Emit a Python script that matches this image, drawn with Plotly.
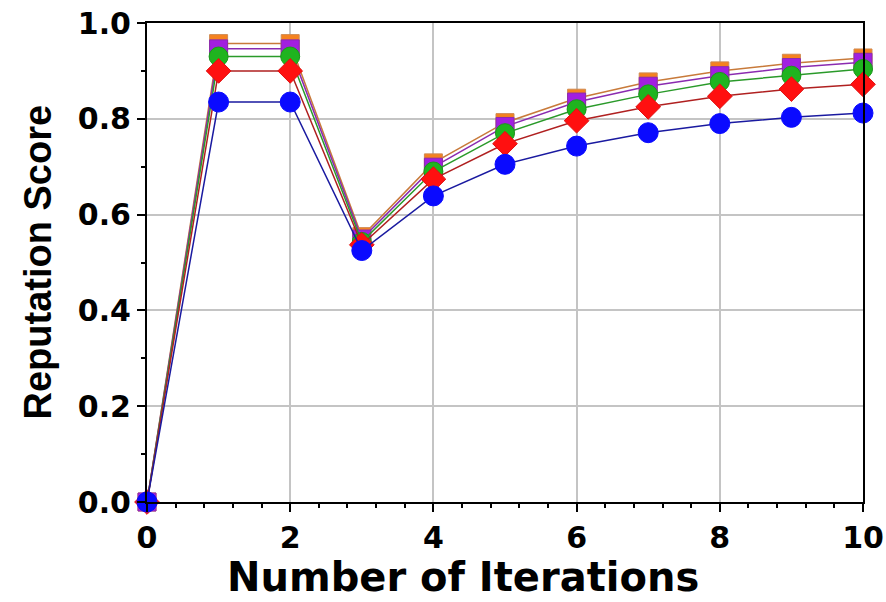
import plotly.graph_objects as go

iterations = [0, 1, 2, 3, 4, 5, 6, 7, 8, 9, 10]
orange_vals = [0.0, 0.957, 0.957, 0.554, 0.708, 0.792, 0.843, 0.877, 0.900, 0.916, 0.927]
purple_vals = [0.0, 0.946, 0.946, 0.549, 0.699, 0.784, 0.835, 0.868, 0.890, 0.907, 0.918]
green_vals = [0.0, 0.930, 0.930, 0.543, 0.690, 0.770, 0.820, 0.851, 0.877, 0.890, 0.904]
red_vals = [0.0, 0.900, 0.900, 0.537, 0.674, 0.748, 0.796, 0.825, 0.847, 0.862, 0.872]
blue_vals = [0.0, 0.835, 0.835, 0.525, 0.639, 0.705, 0.743, 0.771, 0.790, 0.803, 0.812]

x_title = "Number of Iterations"
y_title = "Reputation Score"

series = [
    ("orange", orange_vals, "square", 18, "#f5821f", "#d08a50", "#c87a3a"),
    ("purple", purple_vals, "square", 18, "#a21fe0", "#8a2bb0", "#8a2bb0"),
    ("green", green_vals, "circle", 19, "#1fb41f", "#1a9a1a", "#2a9a2a"),
    ("red", red_vals, "diamond", 19, "#ff1010", "#e01010", "#b02020"),
    ("blue", blue_vals, "circle", 20, "#0a0aff", "#0a0aff", "#1a1aa0"),
]

fig = go.Figure()
for name, vals, sym, size, mcol, mline, lcol in series:
    fig.add_trace(go.Scatter(
        x=iterations, y=vals, mode="lines+markers", name=name,
        line=dict(color=lcol, width=1.5),
        marker=dict(symbol=sym, size=size, color=mcol, line=dict(color=mline, width=1)),
        cliponaxis=False, showlegend=False,
    ))

tick_font = dict(size=30, family="DejaVu Sans", weight="bold", color="black")
fig.update_layout(
    width=886, height=602,
    margin=dict(l=147, r=23, t=23, b=100),
    paper_bgcolor="white", plot_bgcolor="white",
    font=dict(family="DejaVu Sans", color="black"),
)
fig.update_xaxes(
    range=[0, 10], dtick=2, tick0=0, automargin=False, ticklabeloverflow="allow",
    showgrid=True, gridcolor="#c4c4c4", gridwidth=2,
    showline=True, linecolor="black", linewidth=2, mirror=True,
    ticks="outside", ticklen=8, tickwidth=2, tickcolor="black",
    tickfont=tick_font,
    minor=dict(dtick=0.4, ticks="outside", ticklen=4, tickwidth=2, tickcolor="black", showgrid=False),
    zeroline=False,
)
fig.update_yaxes(
    range=[0, 1.0], dtick=0.2, tick0=0, tickformat=".1f", automargin=False, ticklabeloverflow="allow",
    showgrid=True, gridcolor="#c4c4c4", gridwidth=2,
    showline=True, linecolor="black", linewidth=2, mirror=True,
    ticks="outside", ticklen=8, tickwidth=2, tickcolor="black",
    tickfont=tick_font,
    minor=dict(dtick=0.1, ticks="outside", ticklen=4, tickwidth=2, tickcolor="black", showgrid=False),
    zeroline=False,
)
fig.add_annotation(
    text=x_title, xref="paper", yref="paper", x=0.441, y=-0.156,
    xanchor="center", yanchor="middle", showarrow=False,
    font=dict(size=40, family="DejaVu Sans", weight="bold", color="black"),
)
fig.add_annotation(
    text=y_title, xref="paper", yref="paper", x=-0.1536, y=0.5, textangle=-90,
    xanchor="center", yanchor="middle", showarrow=False,
    font=dict(size=38, family="Liberation Sans", weight="bold", color="black"),
)
fig.write_html(
    "out.html",
    config={"displayModeBar": False},
    post_script="document.body.style.margin='0';",
)
